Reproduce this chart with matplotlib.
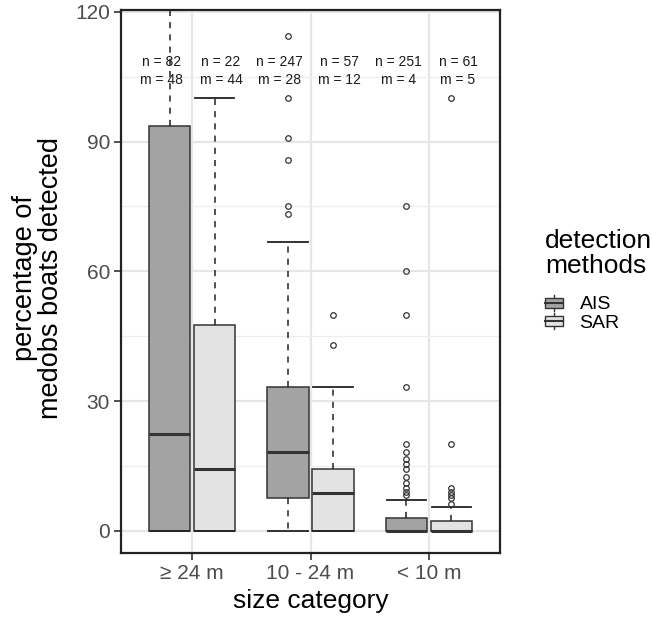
import matplotlib.pyplot as plt
from matplotlib.patches import Rectangle
from matplotlib.lines import Line2D
from matplotlib.legend_handler import HandlerBase

plt.rcParams['font.family'] = ['Liberation Sans', 'DejaVu Sans']

# categories and groups
categorias = ['≥ 24 m', '10 - 24 m', '< 10 m']
metodos = ['AIS', 'SAR']
cores = {'AIS': '#a3a3a3', 'SAR': '#e3e3e3'}

# box stats (percent)
medianas = {'AIS': [22.5, 18.2, 0.0], 'SAR': [14.3, 8.7, 0.0]}
q1 = {'AIS': [0.0, 7.7, 0.0], 'SAR': [0.0, 0.0, 0.0]}
q3 = {'AIS': [93.5, 33.3, 2.9], 'SAR': [47.6, 14.3, 2.2]}
bigode_baixo = {'AIS': [0.0, 0.0, 0.0], 'SAR': [0.0, 0.0, 0.0]}
bigode_alto = {'AIS': [130.0, 66.7, 7.1], 'SAR': [100.0, 33.3, 5.6]}
outliers = {
    'AIS': [[], [114.3, 100, 90.9, 85.7, 75, 73.3],
            [75, 60, 50, 33.3, 20, 18.2, 16.7, 15.4, 14.3, 12.5, 11.1, 10, 9.1, 8.3]],
    'SAR': [[], [50, 42.9], [100, 20, 10, 9.1, 8.3, 7.7, 6.3]],
}
n_obs = {'AIS': [82, 247, 251], 'SAR': [22, 57, 61]}
m_obs = {'AIS': [48, 28, 4], 'SAR': [44, 12, 5]}


class HandlerBoxKey(HandlerBase):
    # desenha uma mini caixa de boxplot na legenda
    def create_artists(self, legend, orig_handle, xdescent, ydescent, width, height, fontsize, trans):
        cor = orig_handle.get_facecolor()
        x0 = xdescent
        w = width
        h = height * 0.62
        y0 = -ydescent + (height - h) / 2
        xm = x0 + w / 2
        artistas = [
            Line2D([xm, xm], [-ydescent, -ydescent + height], color='#333333', lw=1, transform=trans),
            Rectangle((x0, y0), w, h, facecolor=cor, edgecolor='#333333', lw=1, transform=trans),
            Line2D([x0, x0 + w], [y0 + h / 2, y0 + h / 2], color='#333333', lw=1.5, transform=trans),
        ]
        return artistas


fig = plt.figure(figsize=(6.52, 6.27), dpi=100)
ax = fig.add_axes([121 / 652, 1 - 553 / 627, 379 / 652, 543 / 627])

desloc = {'AIS': -0.19, 'SAR': 0.19}
desloc_texto = {'AIS': -0.26, 'SAR': 0.245}
for metodo in metodos:
    stats = []
    for i in range(len(categorias)):
        stats.append({
            'med': medianas[metodo][i], 'q1': q1[metodo][i], 'q3': q3[metodo][i],
            'whislo': bigode_baixo[metodo][i], 'whishi': bigode_alto[metodo][i],
            'fliers': outliers[metodo][i],
        })
    pos = [i + 1 + desloc[metodo] for i in range(len(categorias))]
    ax.bxp(stats, positions=pos, widths=0.35, capwidths=0.33, patch_artist=True, manage_ticks=False,
           boxprops=dict(facecolor=cores[metodo], edgecolor='#333333', linewidth=1.1),
           medianprops=dict(color='#333333', linewidth=2.2),
           whiskerprops=dict(color='#222222', linewidth=1.1, linestyle=(0, (4, 4))),
           capprops=dict(color='#222222', linewidth=1.3),
           flierprops=dict(marker='o', markersize=4, markerfacecolor='none',
                           markeredgecolor='#333333', markeredgewidth=0.9),
           zorder=3)
    for i in range(len(categorias)):
        xt = i + 1 + desloc_texto[metodo]
        ax.text(xt, 108.3, f'n = {n_obs[metodo][i]}', ha='center', va='center', fontsize=10, color='#1a1a1a', zorder=4)
        ax.text(xt, 104.2, f'm = {m_obs[metodo][i]}', ha='center', va='center', fontsize=10, color='#1a1a1a', zorder=4)

ax.set_xlim(0.4, 3.6)
ax.set_ylim(-5.1, 120.4)
ax.set_xticks([1, 2, 3])
ax.set_xticklabels(categorias)
ax.set_yticks([0, 30, 60, 90, 120])
ax.set_yticks([15, 45, 75, 105], minor=True)
ax.grid(True, which='major', color='#e6e6e6', linewidth=1.6, zorder=0)
ax.grid(True, which='minor', axis='y', color='#eeeeee', linewidth=0.9, zorder=0)
ax.set_axisbelow(True)
ax.tick_params(axis='both', which='major', length=5, width=1.2, color='#333333',
               labelsize=15, labelcolor='#4d4d4d', pad=3)
ax.tick_params(axis='y', which='minor', length=0)
for s in ax.spines.values():
    s.set_color('#222222')
    s.set_linewidth(1.6)

ax.set_xlabel('size category', fontsize=19, labelpad=4)
ax.set_ylabel('percentage of\nmedobs boats detected', fontsize=19.5, linespacing=1.0)
ax.yaxis.set_label_coords(-0.15, 0.507)

fig.text(545 / 652, 1 - 229 / 627, 'detection\nmethods', fontsize=19, ha='left', va='top', linespacing=1.05)
handles = [Rectangle((0, 0), 1, 1, facecolor=cores[m]) for m in metodos]
leg = fig.legend(handles, metodos, handler_map={Rectangle: HandlerBoxKey()},
                 loc='upper left', bbox_to_anchor=(545 / 652, 1 - 295 / 627),
                 fontsize=14, frameon=False, handlelength=0.93, handleheight=0.85,
                 handletextpad=0.85, labelspacing=0.0, borderaxespad=0, borderpad=0)

fig.savefig('out.png', dpi=100)
